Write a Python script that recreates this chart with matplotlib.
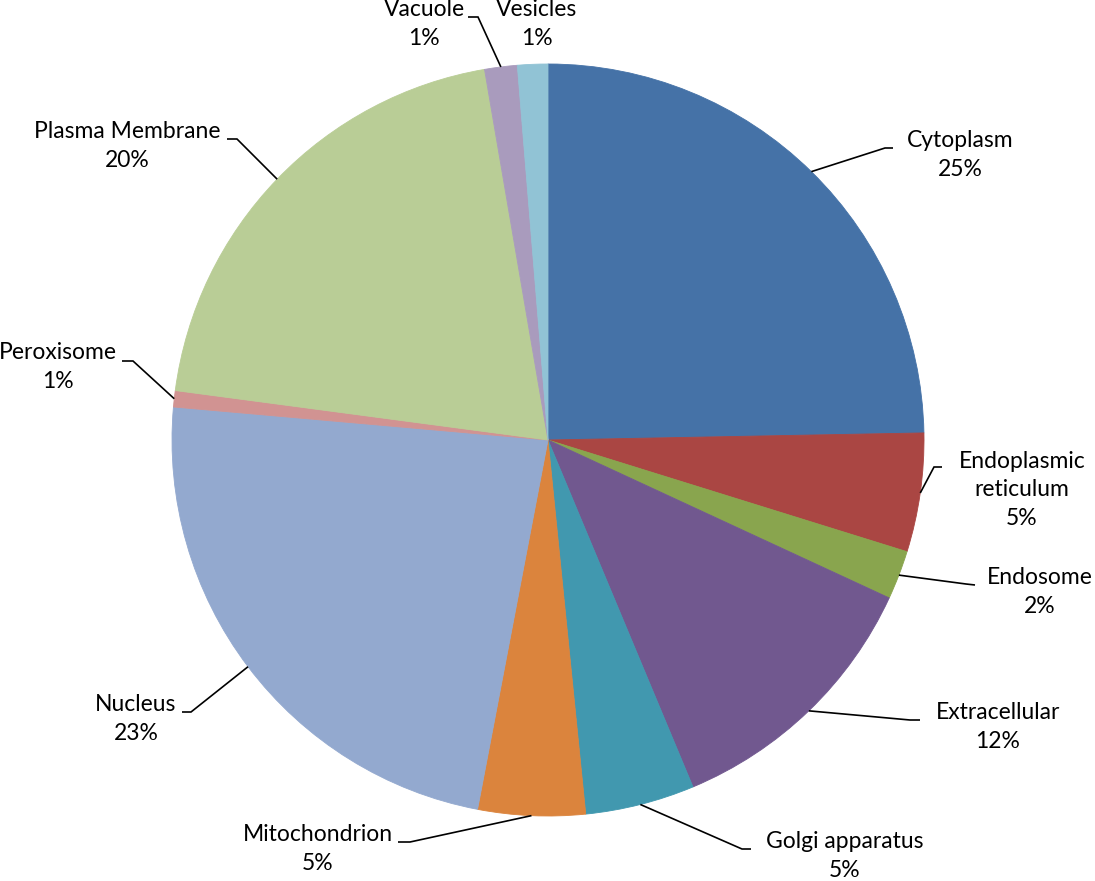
import numpy as np
import matplotlib
matplotlib.use("Agg")
import matplotlib.pyplot as plt

# ---- data ----
categories = ["Cytoplasm", "Endoplasmic\nreticulum", "Endosome", "Extracellular",
              "Golgi apparatus", "Mitochondrion", "Nucleus", "Peroxisome",
              "Plasma Membrane", "Vacuole", "Vesicles"]
values = [24.7, 5.1, 2.1, 11.8, 4.7, 4.6, 23.4, 0.7, 20.2, 1.4, 1.3]
colors = ["#4572A7", "#AA4643", "#89A54E", "#71588F", "#4198AF", "#DB843D",
          "#93A9CF", "#D19392", "#B9CD96", "#A99BBD", "#91C3D5"]

# ---- layout (pixel positions in the 1095x881 canvas) ----
W, H = 1095, 881
CX, CY, R = 548, 440, 376
label_px = [(960, 155), (1022, 490), (1040, 592), (998, 727), (845, 856),
            (318, 849), (136, 719), (58, 367), (127, 146), (424, 24), (537, 24)]
elbow_px = [(885, 148), (934, 467), (966, 584), (910, 720), (742, 849),
            (410, 842), (191, 712), (133, 361), (237, 139), (478, 17), None]
end_px = [(893, 148), (942, 467), (975, 585), (920, 720), (751, 849),
          (398, 842), (182, 712), (122, 361), (227, 139), (468, 17), None]


def px2d(p):
    return ((p[0] - CX) / R, (CY - p[1]) / R)


fig = plt.figure(figsize=(W / 100, H / 100), dpi=100)
ax = fig.add_axes([0, 0, 1, 1])

wedges, _ = ax.pie(values, colors=colors, startangle=90, counterclock=False,
                   radius=1, center=(0, 0), wedgeprops=dict(linewidth=0.6))
for w, c in zip(wedges, colors):
    w.set_edgecolor(c)

ax.set_xlim(-CX / R, (W - CX) / R)
ax.set_ylim(-(H - CY) / R, CY / R)
ax.set_aspect("equal")
ax.axis("off")

total = sum(values)
for w, name, v, lp, el, en in zip(wedges, categories, values, label_px, elbow_px, end_px):
    pct = v / total * 100
    ax.text(*px2d(lp), f"{name}\n{pct:.0f}%", ha="center", va="center",
            multialignment="center", fontsize=16.5, family="Lato",
            color="black", linespacing=1.45)
    if el is not None:
        ang = np.deg2rad((w.theta1 + w.theta2) / 2)
        start = (np.cos(ang), np.sin(ang))
        pts = [start, px2d(el), px2d(en)]
        ax.plot([p[0] for p in pts], [p[1] for p in pts], color="black",
                lw=1.2, solid_capstyle="butt", solid_joinstyle="miter")

fig.savefig("out.png", dpi=100, facecolor="white")
